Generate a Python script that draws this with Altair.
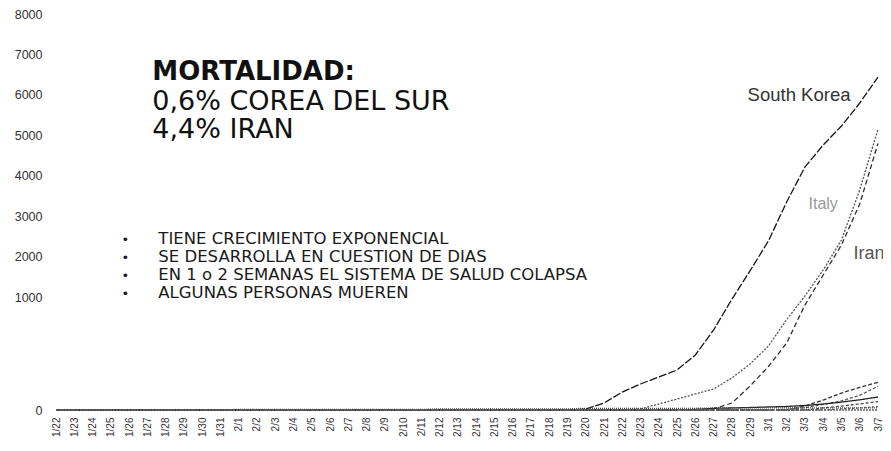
import altair as alt
import pandas as pd

dates = ["1/22", "1/23", "1/24", "1/25", "1/26", "1/27", "1/28", "1/29", "1/30", "1/31",
         "2/1", "2/2", "2/3", "2/4", "2/5", "2/6", "2/7", "2/8", "2/9", "2/10",
         "2/11", "2/12", "2/13", "2/14", "2/15", "2/16", "2/17", "2/18", "2/19", "2/20",
         "2/21", "2/22", "2/23", "2/24", "2/25", "2/26", "2/27", "2/28", "2/29",
         "3/1", "3/2", "3/3", "3/4", "3/5", "3/6", "3/7"]

south_korea = [0, 0, 0, 0, 0, 0, 0, 0, 0, 0, 0, 0, 0, 0, 0, 0, 0, 0, 0, 0,
               0, 0, 0, 0, 0, 0, 0, 0, 0, 8, 62, 159, 230, 292, 354, 487, 708, 980, 1650,
               2385, 3350, 4215, 4759, 5229, 5798, 6441]
italy = [0, 0, 0, 0, 0, 0, 0, 0, 0, 0, 0, 0, 0, 0, 0, 0, 0, 0, 0, 0,
         0, 0, 0, 0, 0, 0, 0, 0, 0, 0, 0, 0, 9, 53, 97, 142, 186, 283, 407,
         566, 800, 1025, 1668, 2410, 3650, 5150]
iran = [0, 0, 0, 0, 0, 0, 0, 0, 0, 0, 0, 0, 0, 0, 0, 0, 0, 0, 0, 0,
        0, 0, 0, 0, 0, 0, 0, 0, 0, 0, 0, 0, 0, 0, 0, 0, 9, 62, 212,
        385, 593, 929, 1544, 2286, 3300, 4800]
serie_c1 = [0, 0, 0, 0, 0, 0, 0, 0, 0, 0, 0, 0, 0, 0, 0, 0, 0, 0, 0, 0,
            0, 0, 0, 0, 0, 0, 0, 0, 0, 0, 0, 0, 0, 0, 0, 0, 0, 0, 0,
            0, 0, 35, 88, 150, 200, 245]
serie_c2 = [0, 0, 0, 0, 0, 0, 0, 0, 0, 0, 0, 0, 0, 0, 0, 0, 0, 0, 0, 0,
            0, 0, 0, 0, 0, 0, 0, 0, 0, 0, 0, 0, 0, 0, 0, 0, 0, 0, 0,
            0, 5, 20, 50, 80, 130, 210]
serie_d = [0, 0, 0, 0, 0, 0, 0, 0, 0, 0, 0, 0, 0, 0, 0, 0, 0, 0, 0, 0,
           0, 0, 0, 0, 0, 0, 0, 0, 0, 0, 0, 0, 0, 0, 0, 5, 15, 18, 22,
           27, 31, 40, 53, 70, 90, 115]
serie_e = [0, 0, 0, 0, 0, 0, 0, 0, 0, 0, 0, 0, 0, 0, 0, 0, 0, 0, 0, 0,
           0, 0, 0, 0, 0, 0, 0, 0, 0, 0, 0, 0, 0, 0, 0, 0, 0, 0, 0,
           0, 0, 0, 18, 35, 53, 75]
serie_f = [0, 0, 0, 0, 0, 0, 0, 0, 0, 0, 0, 0, 0, 0, 0, 0, 0, 0, 0, 0,
           0, 0, 0, 0, 0, 0, 0, 0, 0, 0, 0, 0, 0, 0, 0, 0, 0, 0, 0,
           0, 0, 0, 0, 10, 18, 30]
serie_g = [2, 2, 2, 2, 2, 2, 2, 2, 2, 2, 5, 5, 5, 5, 5, 5, 5, 5, 5, 5,
           5, 10, 10, 10, 10, 10, 10, 10, 10, 15, 15, 15, 15, 15, 15, 15, 18, 18, 18,
           18, 18, 18, 18, 18, 18, 18]
serie_h = [0, 0, 0, 0, 0, 0, 0, 0, 0, 0, 0, 0, 0, 0, 0, 0, 0, 0, 0, 0,
           0, 0, 0, 0, 0, 0, 0, 0, 0, 0, 0, 0, 0, 0, 0, 0, 0, 0, 0,
           0, 0, 0, 0, 0, 0, 0]

series = {
    "South Korea": south_korea,
    "Italy": italy,
    "Iran": iran,
    "Serie C1": serie_c1,
    "Serie C2": serie_c2,
    "Serie D": serie_d,
    "Serie E": serie_e,
    "Serie F": serie_f,
    "Serie G": serie_g,
    "Serie H": serie_h,
}
names = list(series.keys())
line_colors = ["#141414", "#555555", "#2e2e2e", "#333333", "#555555", "#222222", "#444444", "#555555", "#444444", "#666666"]
line_dashes = [[8, 2], [2, 1.5], [5, 3], [4, 2], [3, 2], [1, 0], [3, 2], [2, 2], [1, 1], [2, 1]]
line_widths = [1.3, 1.3, 1.2, 1.1, 1.0, 1.6, 1.1, 1.0, 1.6, 2.2]

y_ticks = [0, 1000, 2000, 3000, 4000, 5000, 6000, 7000, 8000]

rows = []
for name, vals in series.items():
    for d, v in zip(dates, vals):
        rows.append({"date": d, "value": v, "serie": name})
df = pd.DataFrame(rows)

title_bold = ["MORTALIDAD:"]
title_bold_val = [6367]
title_lines = ["0,6% COREA DEL SUR", "4,4% IRAN"]
title_lines_val = [5625, 4933]
bullets = ["TIENE CRECIMIENTO EXPONENCIAL", "SE DESARROLLA EN CUESTION DE DIAS",
           "EN 1 o 2 SEMANAS EL SISTEMA DE SALUD COLAPSA", "ALGUNAS PERSONAS MUEREN"]
bullets_val = [2311, 1866, 1420, 991]
text_anchor_date = "1/27"

x_enc = alt.X("date:N", scale=alt.Scale(domain=dates, type="point", padding=0),
              axis=alt.Axis(title=None, labelAngle=270, labelFontSize=10, labelColor="#333333",
                            labelFont="Liberation Sans", domain=False, ticks=False,
                            labelPadding=7, grid=False))
y_enc = alt.Y("value:Q", scale=alt.Scale(domain=[0, 1000, 8000], range=[396, 283, 0], nice=False, zero=False),
              axis=alt.Axis(values=y_ticks, format="d", title=None, domain=False, ticks=False, grid=False,
                            labelFontSize=12.5, labelColor="#333333", labelPadding=14,
                            labelFont="Liberation Sans"))

lines = alt.Chart(df).mark_line().encode(
    x=x_enc,
    y=y_enc,
    color=alt.Color("serie:N", scale=alt.Scale(domain=names, range=line_colors), legend=None),
    strokeDash=alt.StrokeDash("serie:N", scale=alt.Scale(domain=names, range=line_dashes), legend=None),
    strokeWidth=alt.StrokeWidth("serie:N", scale=alt.Scale(domain=names, range=line_widths), legend=None),
)

def text_layer(texts, vals, date, **kw):
    d = pd.DataFrame({"t": texts, "value": vals, "date": [date] * len(texts)})
    return alt.Chart(d).mark_text(**kw).encode(
        x=alt.X("date:N", scale=alt.Scale(domain=dates, type="point", padding=0)),
        y=alt.Y("value:Q"),
        text="t:N",
    )

t_bold = text_layer(title_bold, title_bold_val, text_anchor_date, align="left", baseline="alphabetic",
                    dx=5, font="DejaVu Sans", fontSize=26, fontWeight="bold", color="#111111")
t_lines = text_layer(title_lines, title_lines_val, text_anchor_date, align="left", baseline="alphabetic",
                     dx=5, font="DejaVu Sans", fontSize=27, color="#111111")
t_bul = text_layer(bullets, bullets_val, text_anchor_date, align="left", baseline="alphabetic",
                   dx=11, font="DejaVu Sans", fontSize=16.5, color="#1a1a1a")
t_dot = text_layer(["•"] * 4, bullets_val, text_anchor_date, align="center", baseline="alphabetic",
                   dx=-22, font="DejaVu Sans", fontSize=13, color="#1a1a1a")

t_sk = text_layer(["South Korea"], [5850], "3/5", align="right", baseline="alphabetic", dx=9,
                  font="Liberation Sans", fontSize=18.5, color="#333333")
t_it = text_layer(["Italy"], [3177], "3/4", align="center", baseline="alphabetic", dx=0,
                  font="Liberation Sans", fontSize=16, color="#999999")
t_ir = text_layer(["Iran"], [1940], "3/5", align="left", baseline="alphabetic", dx=12,
                  font="Liberation Sans", fontSize=18, color="#555555")

chart = alt.layer(lines, t_bold, t_lines, t_bul, t_dot, t_sk, t_it, t_ir).properties(
    width=822, height=396,
    autosize=alt.AutoSizeParams(type="none"),
    padding={"left": 48, "top": 6, "right": 5, "bottom": 33},
    background="white",
).configure_view(stroke=None)

chart.save("out.html", embed_options={"renderer": "svg", "actions": False})
